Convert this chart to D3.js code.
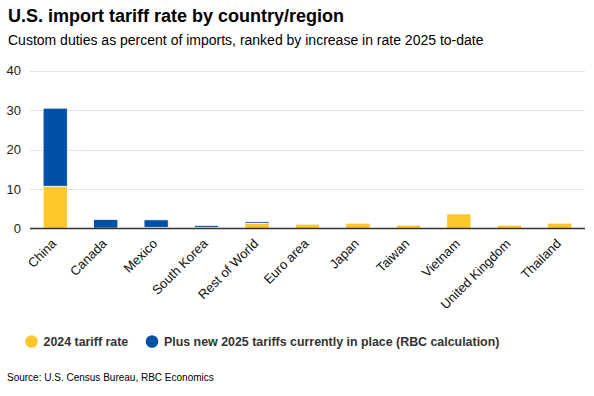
<!DOCTYPE html>
<html>
<head>
<meta charset="utf-8">
<script src="https://cdn.jsdelivr.net/npm/d3@7"></script>
<style>
  body { margin: 0; background: #fff; }
  text { font-family: "Liberation Sans", Arial, sans-serif; }
</style>
</head>
<body>
<svg id="chart" width="594" height="396"></svg>
<script>
// data
var countries = ["China", "Canada", "Mexico", "South Korea", "Rest of World", "Euro area",
                 "Japan", "Taiwan", "Vietnam", "United Kingdom", "Thailand"];
var rate2024 = [10.7, 0.1, 0.3, 0.3, 1.3, 1.1, 1.35, 0.85, 3.7, 0.85, 1.35];
var new2025 = [19.8, 2.2, 1.9, 0.5, 0.4, 0, 0, 0, 0, 0, 0];
var yTicks = [0, 10, 20, 30, 40];

var colors = { base: "#FFC72C", plus: "#0051A5" };

var svg = d3.select("#chart");

var margin = { left: 30, right: 9, top: 71, bottom: 168 };
var width = 594 - margin.left - margin.right;
var plotBottom = 228.5;

// titles
svg.append("text")
    .attr("x", 8).attr("y", 22)
    .attr("font-size", 18).attr("font-weight", "bold").attr("fill", "#000")
    .text("U.S. import tariff rate by country/region");

svg.append("text")
    .attr("x", 8).attr("y", 45)
    .attr("font-size", 14).attr("fill", "#000")
    .text("Custom duties as percent of imports, ranked by increase in rate 2025 to-date");

var x = d3.scaleBand()
    .domain(countries)
    .range([margin.left, margin.left + width])
    .paddingInner(0.52)
    .paddingOuter(0.26);

var y = d3.scaleLinear()
    .domain([0, 40])
    .range([plotBottom, 70.7]);

// gridlines
svg.append("g")
    .selectAll("line")
    .data(yTicks.filter(function(d) { return d > 0; }))
    .join("line")
    .attr("x1", margin.left).attr("x2", margin.left + width)
    .attr("y1", function(d) { return Math.round(y(d)) + 0.5; })
    .attr("y2", function(d) { return Math.round(y(d)) + 0.5; })
    .attr("stroke", "#e3e3e3").attr("stroke-width", 1);

// y axis labels
svg.append("g")
    .selectAll("text")
    .data(yTicks)
    .join("text")
    .attr("x", 21)
    .attr("y", function(d) { return y(d) + 4.5; })
    .attr("text-anchor", "end")
    .attr("font-size", 13).attr("fill", "#222")
    .text(function(d) { return d; });

// stacked bars
var rows = countries.map(function(c, i) {
    return { country: c, base: rate2024[i], plus: new2025[i] };
});
var stack = d3.stack().keys(["base", "plus"])(rows);

svg.append("g")
    .selectAll("g")
    .data(stack)
    .join("g")
    .attr("fill", function(s) { return colors[s.key]; })
    .selectAll("rect")
    .data(function(s) { return s.filter(function(d) { return d[1] - d[0] > 0; }); })
    .join("rect")
    .attr("x", function(d) { return x(d.data.country); })
    .attr("width", x.bandwidth())
    .attr("y", function(d) { return y(d[1]); })
    .attr("height", function(d) { return y(d[0]) - y(d[1]); })
    .attr("stroke", "#fff").attr("stroke-width", 0.8);

// baseline
svg.append("line")
    .attr("x1", margin.left).attr("x2", margin.left + width)
    .attr("y1", plotBottom).attr("y2", plotBottom)
    .attr("stroke", "#333").attr("stroke-width", 1.6);

// x labels
svg.append("g")
    .selectAll("text")
    .data(countries)
    .join("text")
    .attr("transform", function(d) {
        return "translate(" + (x(d) + x.bandwidth() / 2 + 2) + "," + (plotBottom + 16) + ") rotate(-45)";
    })
    .attr("text-anchor", "end")
    .attr("font-size", 13).attr("fill", "#111")
    .text(function(d) { return d; });

// legend
var legendItems = [
    { label: "2024 tariff rate", color: colors.base, cx: 31.5, tx: 43.5 },
    { label: "Plus new 2025 tariffs currently in place (RBC calculation)", color: colors.plus, cx: 152, tx: 164 }
];
var legend = svg.append("g");
legend.selectAll("circle")
    .data(legendItems)
    .join("circle")
    .attr("cx", function(d) { return d.cx; })
    .attr("cy", 341.5)
    .attr("r", 6.3)
    .attr("fill", function(d) { return d.color; });
legend.selectAll("text")
    .data(legendItems)
    .join("text")
    .attr("x", function(d) { return d.tx; })
    .attr("y", 346)
    .attr("font-size", 12.4).attr("font-weight", "bold").attr("fill", "#333")
    .text(function(d) { return d.label; });

// source
svg.append("text")
    .attr("x", 7).attr("y", 381)
    .attr("font-size", 10).attr("fill", "#000")
    .text("Source: U.S. Census Bureau, RBC Economics");
</script>
</body>
</html>
